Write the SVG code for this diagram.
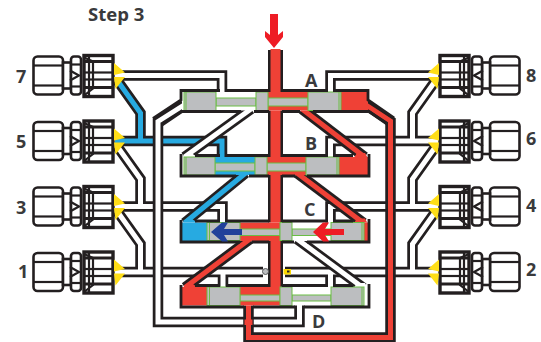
<svg xmlns="http://www.w3.org/2000/svg" width="541" height="342" viewBox="0 0 541 342">
<style>
text{font-family:"Open Sans","Noto Sans",sans-serif;font-weight:700;fill:#3a3a3c;font-size:18px}
.o,.w,.r,.b,.co,.cr,.e,.l,.h,.gl{fill:none}
.o{stroke:#231f20;stroke-width:10.500}
.w{stroke:#fff;stroke-width:5}
.r{stroke:#ef4136;stroke-width:5}
.b{stroke:#27aae1;stroke-width:5}
.co{stroke:#231f20;stroke-width:15}
.cr{stroke:#ef4136;stroke-width:10}
.e{stroke:#231f20;stroke-width:2.800}
.g{fill:#bcbec0;stroke:#6abd45;stroke-width:1}
.gl{stroke:#6abd45;stroke-width:1}
.k{fill:#fff;stroke:#231f20;stroke-width:2.600}
.l{stroke:#231f20;stroke-width:2.200}
.h{stroke:#231f20;stroke-width:3}
.y{fill:#ffde17}
.ab{fill:#21409a}
.ar{fill:#ee1c25}
.fr{fill:#ef4136}
.fb{fill:#27aae1}
.fw{fill:#fff}
</style>
<defs>
<g id="fit">
<rect class="k" x="33.500" y="-19" width="29.500" height="38" rx="4"/>
<line class="l" x1="33" y1="-10" x2="63" y2="-10"/><line class="l" x1="33" y1="10" x2="63" y2="10"/>
<rect class="k" x="63" y="-13" width="8" height="26"/>
<rect class="k" x="71" y="-19" width="10" height="38" rx="3"/>
<line class="l" x1="71" y1="-11" x2="81" y2="-11"/><line class="l" x1="71" y1="11" x2="81" y2="11"/>
<path class="l" d="M70,-5 L79,0 L70,5"/>
<rect class="k" style="stroke-width:3.400" x="84" y="-20" width="29" height="41"/>
<path class="l" d="M84,-18 L93,-14 V13 L84,20 M89,-20 V21"/>
<line class="h" x1="84" y1="-14" x2="113" y2="-14"/><line class="l" x1="84" y1="-3" x2="113" y2="-3"/><line class="l" x1="84" y1="4" x2="113" y2="4"/><line class="h" x1="84" y1="12" x2="113" y2="12"/>
<path class="y" d="M114,-12.500 L125,-3 L114,-0.500 Z M114,1.500 L125,1.500 L115.500,13.500 Z"/>
</g>
</defs>
<rect width="541" height="342" fill="#fff"/>
<g id="connectors">
<path class="o" d="M115,75.500 H222 V93"/>
<path class="w" d="M115,75.500 H222 V93"/>
<path class="o" d="M117,80 L140.500,113 V141 M115,141 H222 V158"/>
<path class="b" d="M117,80 L140.500,113 V141 M115,141 H222 V158"/>
<path class="o" d="M117,146 L140.500,179 V206.500 M115,206.500 H222.500 V224"/>
<path class="w" d="M117,146 L140.500,179 V206.500 M115,206.500 H222.500 V224"/>
<path class="o" d="M117,211 L140.500,244 V272 M115,272 H263 M223,272 V288"/>
<path class="w" d="M117,211 L140.500,244 V272 M115,272 H263 M223,272 V288"/>
<path class="o" d="M438,75.500 H330.500 V93"/>
<path class="w" d="M438,75.500 H330.500 V93"/>
<path class="o" d="M436,80 L412.500,113 V141 M438,141 H330.500 V158"/>
<path class="w" d="M436,80 L412.500,113 V141 M438,141 H330.500 V158"/>
<path class="o" d="M436,146 L412.500,179 V206.500 M438,206.500 H330.500 V224"/>
<path class="w" d="M436,146 L412.500,179 V206.500 M438,206.500 H330.500 V224"/>
<path class="o" d="M436,211 L412.500,244 V272 M438,272 H285 M330.500,272 V288"/>
<path class="w" d="M436,211 L412.500,244 V272 M438,272 H285 M330.500,272 V288"/>
<path class="o" d="M251,109 L184.500,157"/><path class="w" d="M251,109 L184.500,157"/>
<path class="o" d="M245.700,173 L184.500,223"/><path class="b" d="M245.700,173 L184.500,223"/>
<path class="o" d="M250,239 L185,287.500"/><path class="r" d="M250,239 L185,287.500"/>
<path class="o" d="M302,109 L364.600,157"/><path class="r" d="M302,109 L364.600,157"/>
<path class="o" d="M297,173 L363.500,223"/><path class="r" d="M297,173 L363.500,223"/>
<path class="o" d="M297,239 L363.400,288"/><path class="w" d="M297,239 L363.400,288"/>
<path class="o" d="M184,105 L158,121.500 V322 H299.500 V304"/>
<path class="w" d="M184,105 L158,121.500 V322 H299.500 V304"/>
<path class="o" d="M366,105 L390.500,121 V337.500 H248.500 V304"/>
<path class="r" d="M366,105 L390.500,121 V337.500 H248.500 V304"/>
<rect x="244.500" y="319.500" width="8" height="5.500" fill="#ef4136"/>
<path class="co" d="M275.500,50 V300"/>
<path class="cr" d="M275.500,49 V300"/>
</g>
<g id="valve-A">
<rect x="182" y="92" width="186" height="18.500" fill="#fff"/>
<rect x="268" y="92" width="100" height="18.500" fill="#ef4136"/>
<rect class="g" x="216" y="98" width="40" height="8"/>
<rect class="g" x="268" y="98" width="40" height="8"/>
<rect class="g" x="184" y="92" width="32" height="18.500"/><line class="gl" x1="186" y1="92" x2="186" y2="110"/>
<rect class="g" x="256" y="92" width="12" height="18.500"/>
<rect class="g" x="308" y="92" width="33" height="18.500"/><line class="gl" x1="339" y1="92" x2="339" y2="110"/>
<path class="e" d="M153,118.500 L181,100 V90.500 H220 M225,90.500 H269 M282,90.500 H328 M333,90.500 H368 V100 L394,118 M162,125 L182,111.500 H241 M254,111.500 H269 M282,111.500 H300 M313,111.500 H369 L387,124"/>
</g>
<g id="valve-B">
<path class="fw" d="M183,157.500 L187,153.500 H192 L198,157.500 Z"/>
<path class="fr" d="M354,157.500 L357,153 H365 L367.500,157.500 Z"/>
<rect x="182" y="157" width="186" height="18" fill="#fff"/>
<rect x="215" y="157" width="40" height="18" fill="#27aae1"/>
<rect x="267" y="157" width="101" height="18" fill="#ef4136"/>
<rect class="g" x="215" y="163" width="40" height="8"/>
<rect class="g" x="267" y="163" width="39" height="8"/>
<rect class="g" x="184" y="157" width="31" height="18"/><line class="gl" x1="186" y1="157" x2="186" y2="175"/>
<rect class="g" x="255" y="157" width="12" height="18"/>
<rect class="g" x="306" y="157" width="33" height="18"/><line class="gl" x1="337" y1="157" x2="337" y2="175"/>
<path class="e" d="M181,154 V176 H236 M249,176 H269 M282,176 H295 M307,176 H369 V154 M195,155.500 H220 M225,155.500 H269 M282,155.500 H328 M333,155.500 H353"/>
</g>
<g id="valve-C">
<path class="fb" d="M183,223 L187,219 H192 L198,223 Z"/>
<path class="fr" d="M354,223 L357,218.500 H365 L367.500,223 Z"/>
<rect x="182" y="222.500" width="186" height="18.500" fill="#fff"/>
<rect x="182" y="222.500" width="25" height="18.500" fill="#27aae1"/>
<rect x="240" y="222.500" width="40" height="18.500" fill="#ef4136"/>
<rect x="362" y="222.500" width="6" height="18.500" fill="#ef4136"/>
<rect class="g" x="240" y="229" width="40" height="6.500"/>
<rect class="g" x="292" y="229" width="39" height="6.500"/>
<rect class="g" x="207" y="222.500" width="33" height="18"/><line class="gl" x1="209.500" y1="222" x2="209.500" y2="240"/>
<rect class="g" x="280" y="222.500" width="12" height="18"/>
<rect class="g" x="331" y="222.500" width="33" height="18"/><line class="gl" x1="362" y1="222" x2="362" y2="240"/>
<path class="e" d="M181,220 V242 H240 M252,242 H269 M282,242 H294 M307,242 H369 V219 M195,221 H220 M225,221 H269 M282,221 H328 M333,221 H353"/>
<path class="ab" d="M242,229 V235 H224 L228,241.500 H222 L211,232 L222,222.500 H228 L224,229 Z"/>
<path class="ar" d="M344,229 V235 H325 L329,241.500 H323 L313,232 L323,222.500 H329 L325,229 Z"/>
</g>
<g id="valve-D">
<path class="fr" d="M183,287.500 L187,283.500 H192 L198,287.500 Z"/>
<path class="fw" d="M354,287.500 L357,283 H365 L367.500,287.500 Z"/>
<rect x="182" y="287" width="186" height="18.500" fill="#fff"/>
<rect x="182" y="287" width="25" height="18.500" fill="#ef4136"/>
<rect x="240" y="287" width="40" height="18.500" fill="#ef4136"/>
<rect class="g" x="240" y="295" width="40" height="6"/>
<rect class="g" x="292" y="295" width="39" height="6"/>
<rect class="g" x="207" y="287" width="33" height="18.500"/><line class="gl" x1="209.500" y1="287" x2="209.500" y2="305"/>
<rect class="g" x="280" y="287" width="12" height="18.500"/>
<rect class="g" x="331" y="287" width="33" height="18.500"/><line class="gl" x1="362" y1="287" x2="362" y2="305"/>
<path class="e" d="M181,285 V307 H244 M253,307 H295 M304,307 H369 V284 M195,285.500 H220 M226,285.500 H269 M282,285.500 H328 M333,285.500 H353"/>
<circle cx="265.500" cy="271.500" r="3" fill="#bcbec0" stroke="#58595b" stroke-width="1"/>
<rect x="283.500" y="269" width="7.500" height="5.500" fill="#fdd900"/><rect x="287" y="270.500" width="2.500" height="2" fill="#231f20"/>
</g>
<g id="fitting-7"><use href="#fit" transform="translate(0,75.500)"/></g>
<g id="fitting-5"><use href="#fit" transform="translate(0,141)"/></g>
<g id="fitting-3"><use href="#fit" transform="translate(0,206.500)"/></g>
<g id="fitting-1"><use href="#fit" transform="translate(0,272)"/></g>
<g id="fitting-8"><use href="#fit" transform="translate(553,75.500) scale(-1,1)"/></g>
<g id="fitting-6"><use href="#fit" transform="translate(553,141) scale(-1,1)"/></g>
<g id="fitting-4"><use href="#fit" transform="translate(553,206.500) scale(-1,1)"/></g>
<g id="fitting-2"><use href="#fit" transform="translate(553,272) scale(-1,1)"/></g>
<g id="inlet-arrow"><path class="ar" d="M270,14 H278 V35 L283,31 V37 L274,48 L265,37 V31 L270,35 Z"/></g>
<g id="labels">
<text x="88" y="21" style="font-size:18.500px">Step 3</text>
<text x="16" y="83">7</text><text x="16" y="148">5</text><text x="16" y="214">3</text><text x="18" y="278">1</text>
<text x="526" y="82">8</text><text x="526" y="145">6</text><text x="526" y="212">4</text><text x="526" y="276">2</text>
<text x="305" y="87">A</text><text x="305" y="150">B</text><text x="304" y="216">C</text><text x="312" y="328">D</text>
</g>
</svg>
